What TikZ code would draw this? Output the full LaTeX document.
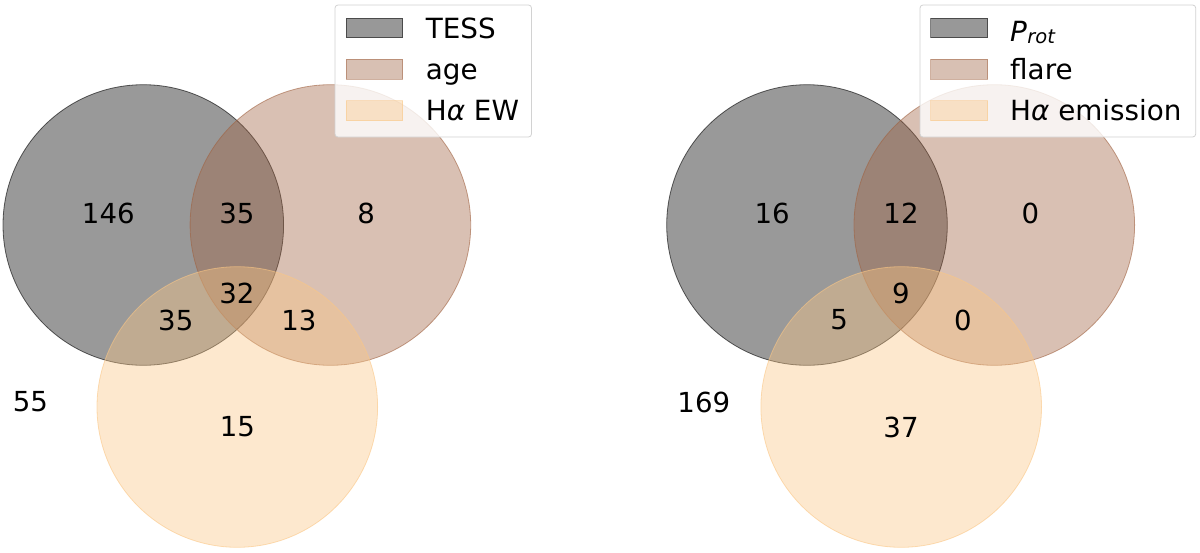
\documentclass[tikz,border=0pt]{standalone}
\usepackage{fontspec}
\setmainfont{DejaVu Sans}
\definecolor{cgray}{RGB}{0,0,0}
\definecolor{cbrown}{RGB}{160,98,65}
\definecolor{corange}{RGB}{250,198,133}
\definecolor{legedge}{RGB}{210,210,210}
\tikzset{
  vset/.style={fill=#1, fill opacity=0.4, draw=#1, draw opacity=0.6, line width=0.8pt},
  num/.style={font=\fontsize{27.6}{32}\selectfont, inner sep=0pt, anchor=center},
  legbox/.style={draw=legedge, fill=white, fill opacity=0.8, rounded corners=3pt, line width=0.8pt},
  legpatch/.style={fill=#1, fill opacity=0.4, draw=#1, draw opacity=0.5, line width=0.8pt},
  legtext/.style={font=\fontsize{27.8}{32}\selectfont, inner sep=0pt, anchor=base west},
}
\begin{document}
\begin{tikzpicture}[x=1pt,y=-1pt]
\useasboundingbox (0,0) rectangle (1200,552);
% ---------- left diagram ----------
\draw[vset=cgray]   (143.3,225) circle[radius=140.3];
\draw[vset=cbrown]  (330.4,225) circle[radius=140.3];
\draw[vset=corange] (237.3,407) circle[radius=140.3];
\node[num] (l100) at (108.3,213.3) {146};
\node[num] (l110) at (237,213.3) {35};
\node[num] (l010) at (366.2,213.3) {8};
\node[num] (l111) at (237,293) {32};
\node[num] (l101) at (175.8,320) {35};
\node[num] (l011) at (299,320) {13};
\node[num] (l000) at (30.5,402) {55};
\node[num] (l001) at (237.5,427) {15};
% left legend
\draw[legbox] (335,5) rectangle (531.5,137);
\draw[legpatch=cgray]   (346,18) rectangle (402.7,37.7);
\draw[legpatch=cbrown]  (346,59.3) rectangle (402.7,79.3);
\draw[legpatch=corange] (346,100.7) rectangle (402.7,120.7);
\node[legtext] (lt1) at (425.7,38.3) {TESS};
\node[legtext] (lt2) at (425.7,79.5) {age};
\node[legtext] (lt3) at (425.7,120) {H{\itshape α} EW};
% ---------- right diagram ----------
\draw[vset=cgray]   (807,225) circle[radius=140.3];
\draw[vset=cbrown]  (994.3,225) circle[radius=140.3];
\draw[vset=corange] (901.2,407) circle[radius=140.3];
\node[num] (r100) at (772.2,213.3) {16};
\node[num] (r110) at (901,213.3) {12};
\node[num] (r010) at (1030.5,213.3) {0};
\node[num] (r111) at (901,293) {9};
\node[num] (r101) at (839.2,320) {5};
\node[num] (r011) at (962.8,320) {0};
\node[num] (r000) at (703.8,402) {169};
\node[num] (r001) at (901,427) {37};
% right legend
\draw[legbox] (920,5) rectangle (1195.7,137);
\draw[legpatch=cgray]   (930.7,18) rectangle (987.7,37.7);
\draw[legpatch=cbrown]  (930.7,59.3) rectangle (987.7,79.3);
\draw[legpatch=corange] (930.7,100.7) rectangle (987.7,120.7);
\node[legtext] (rt1) at (1010,41) {{\itshape P\kern0.5pt\raisebox{-2pt}{\fontsize{19.5}{19.5}\selectfont rot}}};
\node[legtext] (rt2) at (1010,79.5) {flare};
\node[legtext] (rt3) at (1010,120) {H{\itshape α} emission};
\end{tikzpicture}
\end{document}
